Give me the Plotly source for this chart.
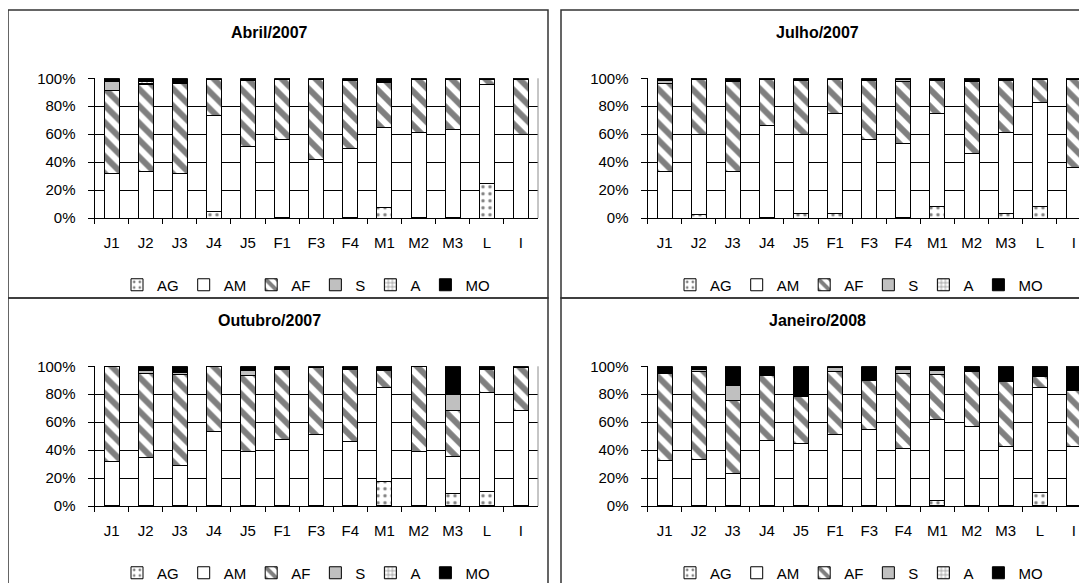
import plotly.graph_objects as go

categories = ["J1", "J2", "J3", "J4", "J5", "F1", "F3", "F4", "M1", "M2", "M3", "L", "I"]
series_names = ["AG", "AM", "AF", "S", "A", "MO"]
panel_titles = ["Abril/2007", "Julho/2007", "Outubro/2007", "Janeiro/2008"]
y_tick_values = [0, 20, 40, 60, 80, 100]
y_tick_labels = ["0%", "20%", "40%", "60%", "80%", "100%"]

# Abril/2007
abr_AG = [0, 0, 0, 5, 0, 0.5, 0, 0.5, 7.5, 0.5, 0.5, 25, 0]
abr_AM = [32, 33, 31.5, 68.5, 51.5, 55.5, 42, 49.5, 57.5, 60.5, 62.5, 70.5, 59.5]
abr_AF = [59.5, 62.5, 64.5, 25.5, 47, 43.5, 57.5, 48.5, 32, 38.5, 36.5, 3.5, 39.5]
abr_S = [6, 1, 1, 0, 0.5, 0, 0, 0.5, 1, 0, 0, 0, 0]
abr_A = [0.5, 1, 1, 0, 0, 0, 0, 0, 0.5, 0, 0, 0, 0]
abr_MO = [2, 2.5, 2, 1, 1, 0.5, 0.5, 1, 1.5, 0.5, 0.5, 1, 1]

# Julho/2007
jul_AG = [0, 2.5, 0, 0.5, 3.5, 3.5, 0, 0.5, 8.5, 0, 3.5, 8.5, 0]
jul_AM = [33.5, 57.5, 33, 65.5, 56.5, 71.5, 56, 53, 66, 46.5, 58, 74.5, 36.5]
jul_AF = [63, 39.5, 65, 33, 38.5, 24.5, 42.5, 44.5, 24, 51.5, 37, 16, 62.5]
jul_S = [2, 0, 0, 0, 0.5, 0, 0, 1, 0, 0, 0, 0.5, 0]
jul_A = [0, 0, 0, 0, 0, 0, 0, 0, 0, 0, 0, 0, 0]
jul_MO = [1.5, 0.5, 2, 1, 1, 0.5, 1.5, 1, 1.5, 2, 1.5, 0.5, 1]

# Outubro/2007
out_AG = [0, 0, 0.5, 0.5, 0, 0.5, 0.5, 0.5, 17.5, 0, 9, 10.5, 0.5]
out_AM = [31.5, 34.5, 28.5, 52.5, 39, 47, 50.5, 46, 67, 39, 26.5, 71, 67.5]
out_AF = [68, 60, 65, 46.5, 54.5, 50.5, 48, 51, 12.5, 60.5, 32.5, 16.5, 31]
out_S = [0, 2.5, 1.5, 0, 3.5, 0, 0, 0, 0, 0, 12, 0, 0]
out_A = [0, 0, 0.5, 0, 0, 0, 0, 0, 0, 0, 0.5, 0, 0]
out_MO = [0.5, 3, 4, 0.5, 3, 2, 1, 2.5, 3, 0.5, 19.5, 2, 1]

# Janeiro/2008
jan_AG = [0, 0, 0.5, 0, 0, 0.5, 0.5, 0.5, 4, 0.5, 0, 9.5, 0]
jan_AM = [32.5, 33.5, 22.5, 47, 45, 51, 54.5, 41, 58, 56.5, 42.5, 75, 42.5]
jan_AF = [62.5, 62.5, 52.5, 46.5, 33.5, 45, 35, 53, 32, 39.5, 46.5, 8, 40.5]
jan_S = [0.5, 1.5, 10.5, 0, 0, 2.5, 0, 3, 3, 0, 1, 0, 0]
jan_A = [0, 0, 0, 0, 0, 0, 0, 0, 0, 0, 0, 0, 0]
jan_MO = [4.5, 2.5, 14, 6.5, 21.5, 1, 10, 2.5, 3, 3.5, 10, 7.5, 17]

panels = [
    [abr_AG, abr_AM, abr_AF, abr_S, abr_A, abr_MO],
    [jul_AG, jul_AM, jul_AF, jul_S, jul_A, jul_MO],
    [out_AG, out_AM, out_AF, out_S, out_A, out_MO],
    [jan_AG, jan_AM, jan_AF, jan_S, jan_A, jan_MO],
]

W, H = 1087, 583
OFF = 8  # the page body margin shifts the figure by 8 px right and down
FONT = "Liberation Sans, Arial, sans-serif"

def px_x(v):
    return (v - OFF) / W

def px_y(v):
    return 1 - (v - OFF) / H

styles = {
    "AG": dict(color="white", pattern=dict(shape=".", fgcolor="black", bgcolor="white", size=7, solidity=0.18)),
    "AM": dict(color="white"),
    "AF": dict(color="white", pattern=dict(shape="\\", fgcolor="black", bgcolor="white", size=12, solidity=0.5)),
    "S": dict(color="#c0c0c0"),
    "A": dict(color="white", pattern=dict(shape="+", fgcolor="black", bgcolor="white", size=5, solidity=0.3)),
    "MO": dict(color="black"),
}

# plot-area geometry in reference pixels: x0, x1, ytop, ybottom
left_x0, left_x1 = 94.5, 538.0
right_x0, right_x1 = left_x0 + 553, left_x1 + 553
top_yt, top_yb = 78.3, 218.0
bot_yt, bot_yb = 366.3, 506.0

geoms = [
    (left_x0, left_x1, top_yt, top_yb),
    (right_x0, right_x1, top_yt, top_yb),
    (left_x0, left_x1, bot_yt, bot_yb),
    (right_x0, right_x1, bot_yt, bot_yb),
]

fig = go.Figure()
layout = dict(
    width=W, height=H,
    margin=dict(l=0, r=0, t=0, b=0, autoexpand=False),
    paper_bgcolor="white", plot_bgcolor="white",
    barmode="stack", barnorm="percent",
    font=dict(family=FONT, size=15, color="black"),
    showlegend=True,
)

legend_pos = [(306, 285), (859, 285), (306, 573), (859, 573)]
title_pos = [(269, 32), (817.5, 32), (269, 320), (817.5, 320)]

shapes = []
annotations = []

for i, (vals, geom) in enumerate(zip(panels, geoms)):
    k = "" if i == 0 else str(i + 1)
    xa, ya = "x" + k, "y" + k
    leg = "legend" + k
    for name, v in zip(series_names, vals):
        fig.add_trace(go.Bar(
            x=categories, y=v, name=name,
            xaxis=xa, yaxis=ya, legend=leg,
            width=0.44,
            marker=dict(line=dict(color="black", width=1), **styles[name]),
            hoverinfo="x+y+name",
        ))
    gx0, gx1, gyt, gyb = geom
    layout["xaxis" + k] = dict(
        domain=[px_x(gx0), min(px_x(gx1), 1.0)], anchor=ya,
        type="category", range=[-0.5, 12.5],
        showline=True, linecolor="black", linewidth=1,
        ticks="outside", ticklen=5, tickcolor="black", tickson="boundaries",
        showgrid=False, tickfont=dict(size=15, family=FONT),
        ticklabelstandoff=11, fixedrange=True,
    )
    layout["yaxis" + k] = dict(
        domain=[px_y(gyb), px_y(gyt)], anchor=xa,
        range=[0, 100], tickmode="array", tickvals=y_tick_values, ticktext=y_tick_labels,
        showline=True, linecolor="black", linewidth=1,
        ticks="outside", ticklen=6, tickcolor="black",
        showgrid=True, gridcolor="black", gridwidth=1,
        zeroline=False, tickfont=dict(size=15, family=FONT),
        ticklabelstandoff=9, fixedrange=True,
    )
    lx, ly = legend_pos[i]
    layout[leg] = dict(
        orientation="h", x=px_x(lx), y=px_y(ly), xanchor="center", yanchor="middle",
        xref="paper", yref="paper",
        font=dict(size=15, family=FONT), bgcolor="rgba(0,0,0,0)",
        itemwidth=30, traceorder="normal",
    )
    tx, ty = title_pos[i]
    annotations.append(dict(
        text="<b>" + panel_titles[i] + "</b>", x=px_x(tx), y=px_y(ty),
        xref="paper", yref="paper", xanchor="center", yanchor="middle",
        showarrow=False, font=dict(size=16, family=FONT),
    ))
    shapes.append(dict(type="line", xref="paper", yref="paper",
                       x0=px_x(gx1), x1=px_x(gx1), y0=px_y(gyb), y1=px_y(gyt),
                       line=dict(color="#8c8c8c", width=1)))

# outer chart-area borders
for (bx0, bx1) in [(8, 548), (561, 1101)]:
    for (by0, by1) in [(10, 298), (298, 586)]:
        shapes.append(dict(type="rect", xref="paper", yref="paper",
                           x0=px_x(bx0), x1=px_x(bx1), y0=px_y(by1), y1=px_y(by0),
                           line=dict(color="#333333", width=1.5), fillcolor="rgba(0,0,0,0)"))

layout["shapes"] = shapes
layout["annotations"] = annotations
fig.update_layout(**layout)

fig.write_html("out.html")
